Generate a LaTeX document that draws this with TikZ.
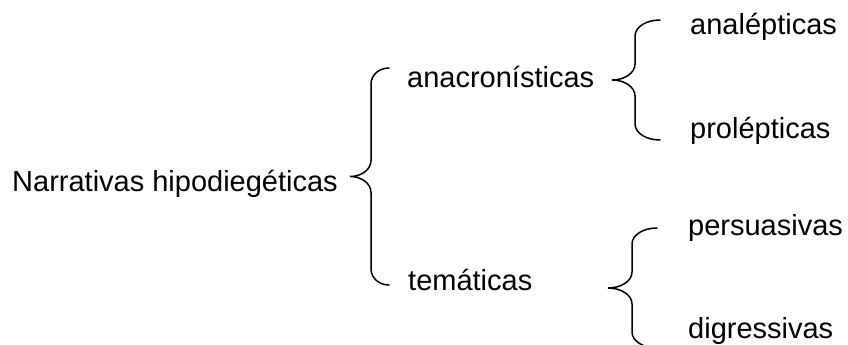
\documentclass[tikz,border=0pt]{standalone}
\usepackage{fontspec}
\setmainfont{Liberation Sans}
\usetikzlibrary{calc}

\tikzset{
  texto/.style={anchor=base west, inner sep=0pt, font=\fontsize{29}{35}\selectfont},
  linea/.style={line width=1.5pt, line cap=round}
}

% llave: #1 extremo superior, #2 gancho, #3 punta, #4 media altura
\newcommand{\llave}[4]{%
  \draw[linea] (#1) .. controls +(-0.55*#2,0) and +(0,-9) .. ++(-#2,16)
    -- ++(0,#4-32) .. controls +(0,9) and +(0.55*#3,0) .. ++(-#3,16)
    .. controls +(0.55*#3,0) and +(0,-9) .. ++(#3,16)
    -- ++(0,#4-32) .. controls +(0,9) and +(-0.55*#2,0) .. ++(#2,16);}

\begin{document}
\begin{tikzpicture}[x=1pt, y=-1pt]
  \useasboundingbox (0,0) rectangle (848,345);
  \clip (0,0) rectangle (848,345);
  % textos
  \node[texto] (raiz) at (12,191) {Narrativas hipodiegéticas};
  \node[texto] (anacr) at (407,88) {anacronísticas};
  \node[texto] (temat) at (408,290) {temáticas};
  \node[texto] (analep) at (690,35) {analépticas};
  \node[texto] (prolep) at (690,138) {prolépticas};
  \node[texto] (persua) at (688,235) {persuasivas};
  \node[texto] (digres) at (688,338) {digressivas};
  % llaves
  \coordinate (ll1) at ($(anacr.base west)+(-18,-20)$);
  \coordinate (ll2) at ($(analep.base west)+(-30,-15)$);
  \coordinate (ll3) at ($(persua.base west)+(-31,-7)$);
  \llave{ll1}{18}{21}{108.5}
  \llave{ll2}{25}{23}{60}
  \llave{ll3}{25}{24}{60}
\end{tikzpicture}
\end{document}
